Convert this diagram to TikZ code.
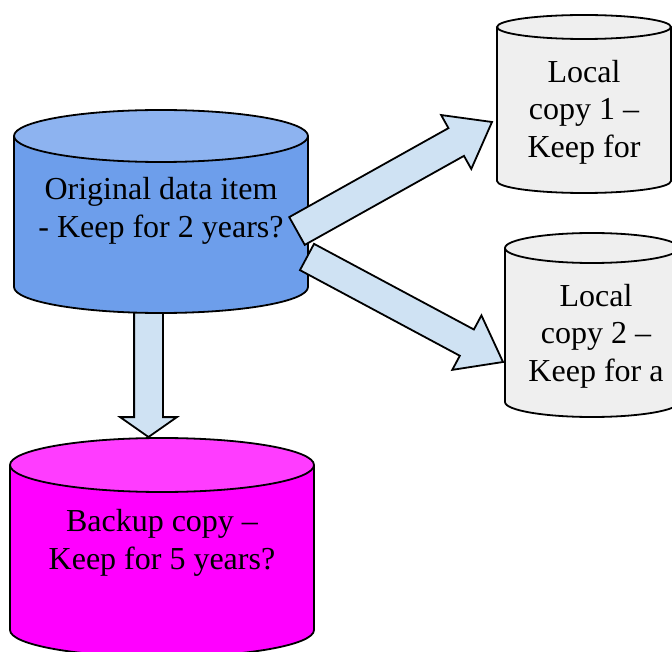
\documentclass[tikz,border=0pt]{standalone}
\usepackage{fontspec}
\setmainfont{Liberation Serif}
\usepackage{tikz}
\usetikzlibrary{shapes.arrows}
\usetikzlibrary{calc}
\definecolor{origbody}{HTML}{6D9EEB}
\definecolor{origend}{HTML}{8DB3F0}
\definecolor{copybody}{HTML}{EFEFEF}
\definecolor{backbody}{HTML}{FF00FF}
\definecolor{backend}{HTML}{FF3CFF}
\definecolor{arrowblue}{HTML}{CFE2F3}
\tikzstyle{fat} = [single arrow, draw, fill=arrowblue, line width=1.8pt,
inner xsep=0pt, outer sep=0pt, minimum width=0pt]
\tikzstyle{drumtext} = [align=center, text=black, font=\fontsize{32}{37.5}\selectfont]

% a standing drum: centre x, top y, bottom y, x radius, y radius, body, lid
\newcommand{\drum}[7]{%
  \filldraw[fill=#6, line width=1.8pt] (#1-#4,#2) -- (#1-#4,#3)
    arc[start angle=180, end angle=0, x radius=#4, y radius=#5] -- (#1+#4,#2);
  \filldraw[fill=#7, line width=1.8pt] (#1,#2) ellipse[x radius=#4, y radius=#5];
}
% a block arrow laid from one point to another
\newcommand{\fatarrow}[3]{%
  \path let \p1=($(#3)-(#2)$) in
    node[fat, #1, anchor=tail, rotate={atan2(\y1,\x1)},
      minimum height={veclen(\x1,\y1)}] at (#2) {};
}

\begin{document}
\begin{tikzpicture}[x=1pt, y=-1pt]
    \useasboundingbox (0,0) rectangle (672,652);
    \clip (0,0) rectangle (672,652);
    %% arrow ends
    \coordinate (o1) at (297,231);
    \coordinate (l1) at (492,122);
    \coordinate (o2) at (307,257);
    \coordinate (l2) at (503,362);
    \coordinate (o3) at (148.5,300);
    \coordinate (b) at (148.5,437);
    \fatarrow{inner ysep=13.5pt, single arrow head extend=14pt, single arrow tip angle=110}{o3}{b}
    %% Drums
    \drum{161}{136}{287}{147}{26}{origbody}{origend}
    \drum{584}{27}{181}{87}{12}{copybody}{copybody}
    \drum{592}{248}{402}{87}{15}{copybody}{copybody}
    \drum{162}{465}{630}{152}{27}{backbody}{backend}
    \node [drumtext] (orig) at (161,211) {Original data item\\- Keep for 2 years?};
    \node [drumtext] (local1) at (584,112) {Local\\copy 1 –\\Keep for};
    \node [drumtext] (local2) at (596,336) {Local\\copy 2 –\\Keep for a};
    \node [drumtext] (backup) at (162,543) {Backup copy –\\Keep for 5 years?};
    %% Copies
    \fatarrow{inner ysep=15pt, single arrow head extend=15pt, single arrow tip angle=74}{o1}{l1}
    \fatarrow{inner ysep=14pt, single arrow head extend=16pt, single arrow tip angle=74}{o2}{l2}
  \end{tikzpicture}
\end{document}
